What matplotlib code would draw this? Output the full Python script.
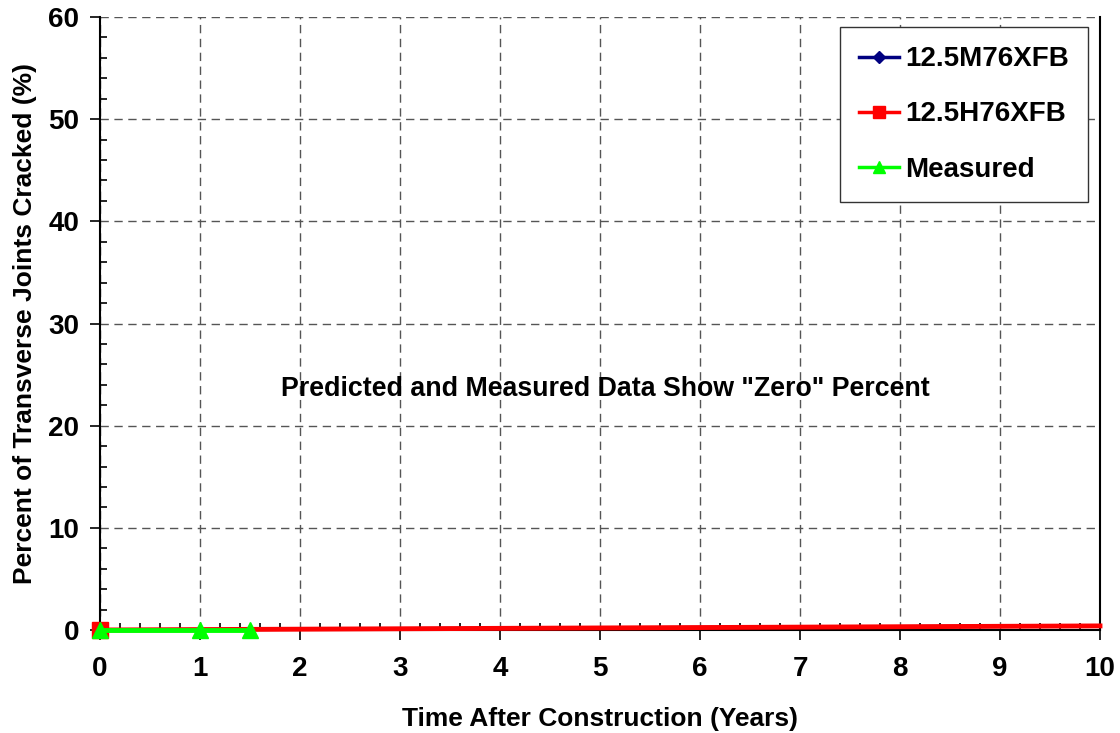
import matplotlib
matplotlib.use("Agg")
import matplotlib.pyplot as plt
from matplotlib.ticker import MultipleLocator

plt.rcParams['font.family'] = ['Liberation Sans', 'DejaVu Sans']
plt.rcParams['font.weight'] = 'bold'

# Data
m76_years = [0, 10]
m76_pct = [0.0, 0.4]
h76_years = [0, 10]
h76_pct = [0.0, 0.4]
meas_years = [0, 1, 1.5]
meas_pct = [0.0, 0.0, 0.0]

series_labels = ['12.5M76XFB', '12.5H76XFB', 'Measured']
annotation = 'Predicted and Measured Data Show "Zero" Percent'
xlabel = 'Time After Construction (Years)'
ylabel = 'Percent of Transverse Joints Cracked (%)'

fig = plt.figure(figsize=(11.2, 7.33), dpi=100)
ax = fig.add_axes([100/1120, 1-630/733, 1000/1120, 613/733])

ax.plot(m76_years, m76_pct, color='#000080', lw=2.5, marker='D', ms=7,
        markevery=[0], label=series_labels[0], clip_on=False, zorder=3)
ax.plot(h76_years, h76_pct, color='#ff0000', lw=3.5, marker='s', ms=11,
        markevery=[0], label=series_labels[1], clip_on=False, zorder=4)
ax.plot(meas_years, meas_pct, color='#00ff00', lw=3.5, marker='^', ms=12,
        label=series_labels[2], clip_on=False, zorder=5)

ax.set_xlim(0, 10)
ax.set_ylim(0, 60)
ax.xaxis.set_major_locator(MultipleLocator(1))
ax.xaxis.set_minor_locator(MultipleLocator(0.2))
ax.yaxis.set_major_locator(MultipleLocator(10))
ax.yaxis.set_minor_locator(MultipleLocator(2))

ax.tick_params(axis='both', which='major', direction='out', length=7, width=1.2,
               labelsize=20, pad=8)
ax.tick_params(axis='both', which='minor', direction='in', length=5, width=1.2)
ax.tick_params(axis='x', which='major', pad=12)
for lab in ax.get_xticklabels() + ax.get_yticklabels():
    lab.set_fontweight('bold')

ax.grid(True, which='major', color='#555555', linestyle=(0, (6, 4)), lw=1.0)
ax.set_axisbelow(True)

for s in ['left', 'bottom', 'right']:
    ax.spines[s].set_linewidth(1.5)
    ax.spines[s].set_color('black')
ax.spines['top'].set_visible(False)

ax.set_xlabel(xlabel, fontsize=19, fontweight='bold', labelpad=18)
ax.set_ylabel(ylabel, fontsize=19, fontweight='bold', labelpad=8)

ax.text(5.05, 23.6, annotation, ha='center', va='center', fontsize=19.3,
        fontweight='bold')

leg = ax.legend(loc='upper right', bbox_to_anchor=(0.988, 0.984),
                borderaxespad=0.0,
                frameon=True, fancybox=False, edgecolor='#333333',
                borderpad=0.7, labelspacing=1.05, handlelength=1.45,
                handletextpad=0.2, prop={'weight': 'bold', 'size': 20})
leg.get_frame().set_linewidth(1.0)
leg.get_frame().set_alpha(1)
for h in leg.get_lines():
    h.set_linewidth(2.5)
for line, ms in zip(leg.get_lines(), [6, 9, 9]):
    line.set_markersize(ms)

fig.savefig('out.png', dpi=100)
